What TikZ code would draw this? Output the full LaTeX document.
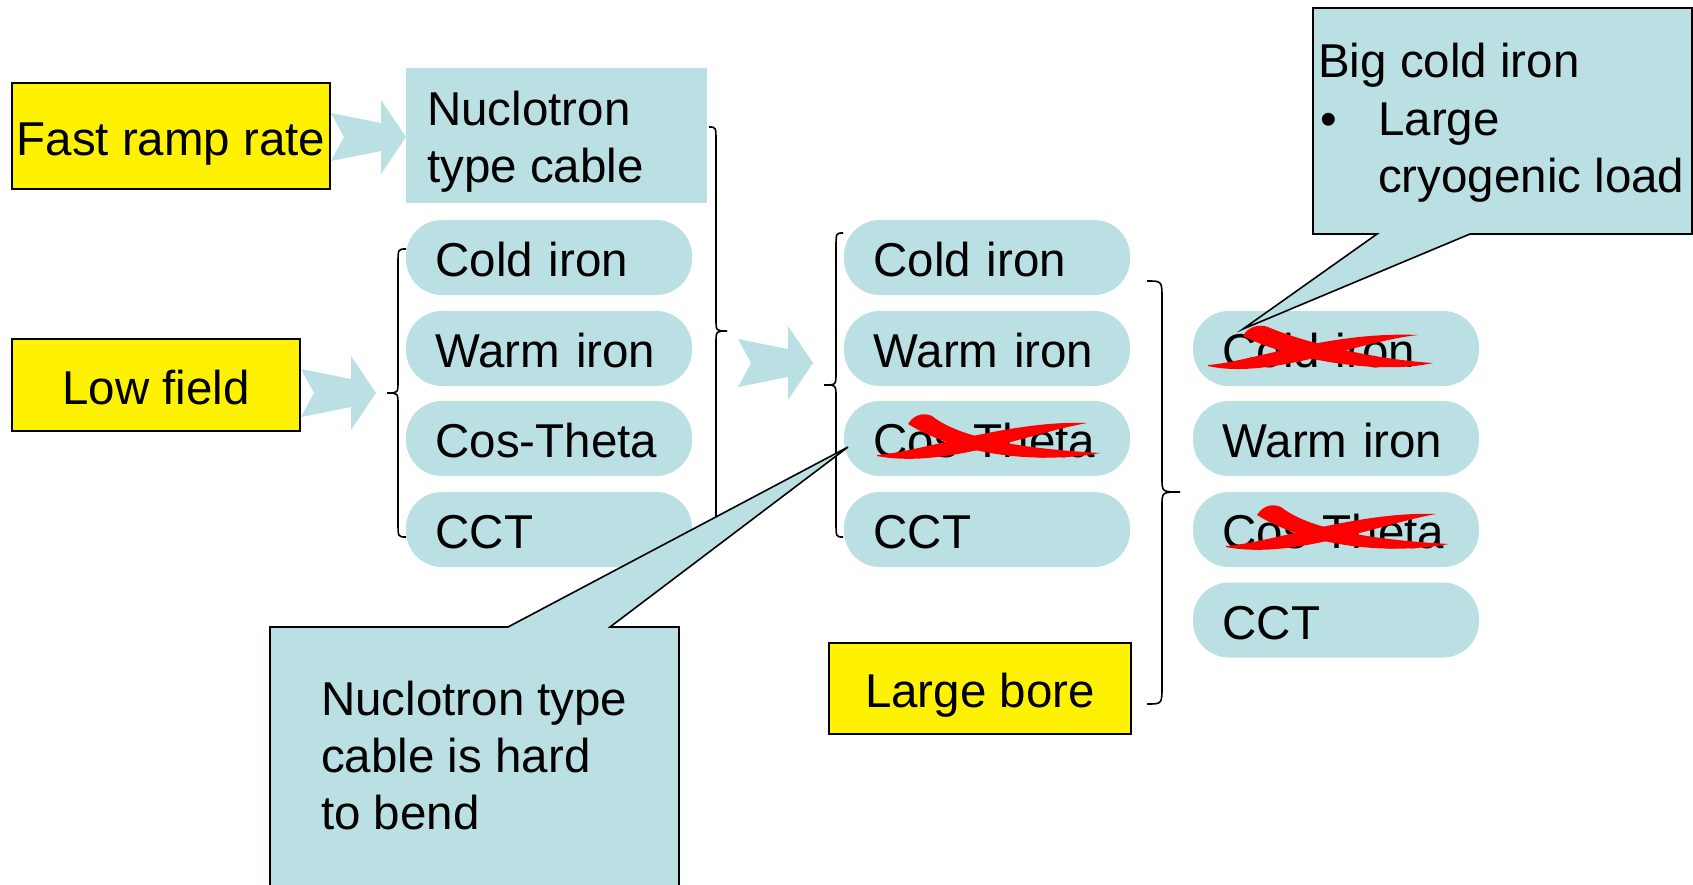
\documentclass[tikz,border=0pt]{standalone}
\usepackage{fontspec}
\setmainfont{Liberation Sans}
\definecolor{cyanfill}{HTML}{BBE0E3}
\definecolor{crossred}{HTML}{FF0000}
\tikzset{
  ybox/.style={fill=yellow, draw=black, line width=2pt, inner sep=0pt,
               text height=38pt, text depth=0pt},
  pill/.style={fill=cyanfill, rounded corners=36pt, minimum width=286pt,
               minimum height=75pt, text width=227pt, inner xsep=29.5pt,
               inner ysep=0pt, align=left, text height=38pt, text depth=0pt},
  label/.style={inner sep=0pt},
  bracket/.style={draw=black, line width=1.6pt},
  callout/.style={fill=cyanfill, draw=black, line width=1.6pt, line join=miter},
  strike/.style={fill=crossred},
  notcharrow/.pic={\fill[cyanfill] (0,-24) -- (50,-14) -- (50,-37) -- (75,0)
                    -- (50,37) -- (50,14) -- (0,24) -- (13,0) -- cycle;}
}
\begin{document}
\begin{tikzpicture}[x=1pt, y=-1pt, font=\fontsize{47.5}{57}\selectfont]
\useasboundingbox (0,0) rectangle (1693,884);
\clip (0,0) rectangle (1693,884);

% block arrows
\pic (arrA) at (331,137) {notcharrow};
\pic (arrB) at (301,393) {notcharrow};
\pic (arrC) at (738,363) {notcharrow};

% requirement boxes
\node[ybox, minimum width=318pt, minimum height=106pt] (fast) at (171,136) {Fast ramp rate};
\node[ybox, minimum width=288pt, minimum height=92pt] (low) at (156,385) {Low field};
\node[ybox, minimum width=302pt, minimum height=91pt] (large) at (980,688.5) {Large bore};

% cable type
\node[fill=cyanfill, minimum width=301pt, minimum height=135pt, inner sep=0pt] (nuc) at (556.5,135.5) {};
\node[label, anchor=base west] (nuctext) at (427,125) {\parbox[t]{270pt}{Nuclotron\\type cable}};

% first column of options
\node[pill] (aCold) at (549,257.5) {Cold iron};
\node[pill] (aWarm) at (549,348.5) {Warm iron};
\node[pill] (aCos)  at (549,438.5) {Cos-Theta};
\node[pill] (aCct)  at (549,529.5) {CCT};

% second column of options
\node[pill] (bCold) at (987,257.5) {Cold iron};
\node[pill] (bWarm) at (987,348.5) {Warm iron};
\node[pill] (bCos)  at (987,438.5) {Cos-Theta};
\node[pill] (bCct)  at (987,529.5) {CCT};

% third column of options
\node[pill] (cCold) at (1336,348.5) {Cold iron};
\node[pill] (cWarm) at (1336,438.5) {Warm iron};
\node[pill] (cCos)  at (1336,529.5) {Cos-Theta};
\node[pill] (cCct)  at (1336,620) {CCT};

% braces
\draw[bracket] (709,127) .. controls (716,127) .. (716,142) -- (716,319)
  .. controls (716,331) .. (727,331) .. controls (716,331) .. (716,343)
  -- (716,520) .. controls (716,535) .. (709,535);
\draw[bracket] (406,249) .. controls (398,249) .. (398,264) -- (398,381)
  .. controls (398,393) .. (387,393) .. controls (398,393) .. (398,405)
  -- (398,522) .. controls (398,537) .. (406,537);
\draw[bracket] (843,233) .. controls (836,233) .. (836,248) -- (836,373)
  .. controls (836,385) .. (824,385) .. controls (836,385) .. (836,397)
  -- (836,522) .. controls (836,537) .. (843,537);
\draw[bracket] (1147,281) .. controls (1162,281) .. (1162,299) -- (1162,478)
  .. controls (1162,492) .. (1180,492) .. controls (1162,492) .. (1162,506)
  -- (1162,686) .. controls (1162,704) .. (1147,704);

% callout on the cable
\coordinate (tipL) at (848,447);
\draw[callout] (270,627) -- (508,627) -- (tipL) -- (610,627) -- (679,627)
  -- (679,900) -- (270,900) -- cycle;
\node[label, anchor=base west] (bendtext) at (321,715)
  {\parbox[t]{350pt}{Nuclotron type\\cable is hard\\to bend}};

% callout on the iron
\coordinate (tipR) at (1243,329);
\draw[callout] (1313,8) -- (1692,8) -- (1692,234) -- (1470,234) -- (tipR)
  -- (1377,234) -- (1313,234) -- cycle;
\node[label, anchor=base west] (bigtext) at (1318,77) {Big cold iron};
\node[label, anchor=base west] (bullet) at (1320,135) {\textbullet};
\node[label, anchor=base west] (loadA) at (1378,135) {Large};
\node[label, anchor=base west] (loadB) at (1378,192) {cryogenic load};

% crossed-out options: brush strokes over Cos-Theta (middle column)
\begin{scope}
\fill[strike] (932,416) .. controls (962,440) and (1030,449) .. (1100,453)
  .. controls (1040,464) and (960,456) .. (908,424)
  .. controls (915,413) and (925,413) .. (932,416) -- cycle;
\fill[strike] (877,455) .. controls (920,452) and (1010,420) .. (1087,423)
  .. controls (1030,433) and (945,469) .. (877,456) -- cycle;
\end{scope}
% the same strokes over Cos-Theta (right column)
\begin{scope}[shift={(349,91)}]
\fill[strike] (932,416) .. controls (962,440) and (1030,449) .. (1100,453)
  .. controls (1040,464) and (960,456) .. (908,424)
  .. controls (915,413) and (925,413) .. (932,416) -- cycle;
\fill[strike] (877,455) .. controls (920,452) and (1010,420) .. (1087,423)
  .. controls (1030,433) and (945,469) .. (877,456) -- cycle;
\end{scope}
% strokes over Cold iron (right column)
\fill[strike] (1268,327) .. controls (1300,341) and (1370,359) .. (1433,363)
  .. controls (1380,375) and (1290,360) .. (1243,336)
  .. controls (1248,326) and (1260,324) .. (1268,327) -- cycle;
\fill[strike] (1208,365) .. controls (1250,362) and (1330,331) .. (1418,335)
  .. controls (1360,341) and (1270,380) .. (1208,366) -- cycle;
\end{tikzpicture}
\end{document}
